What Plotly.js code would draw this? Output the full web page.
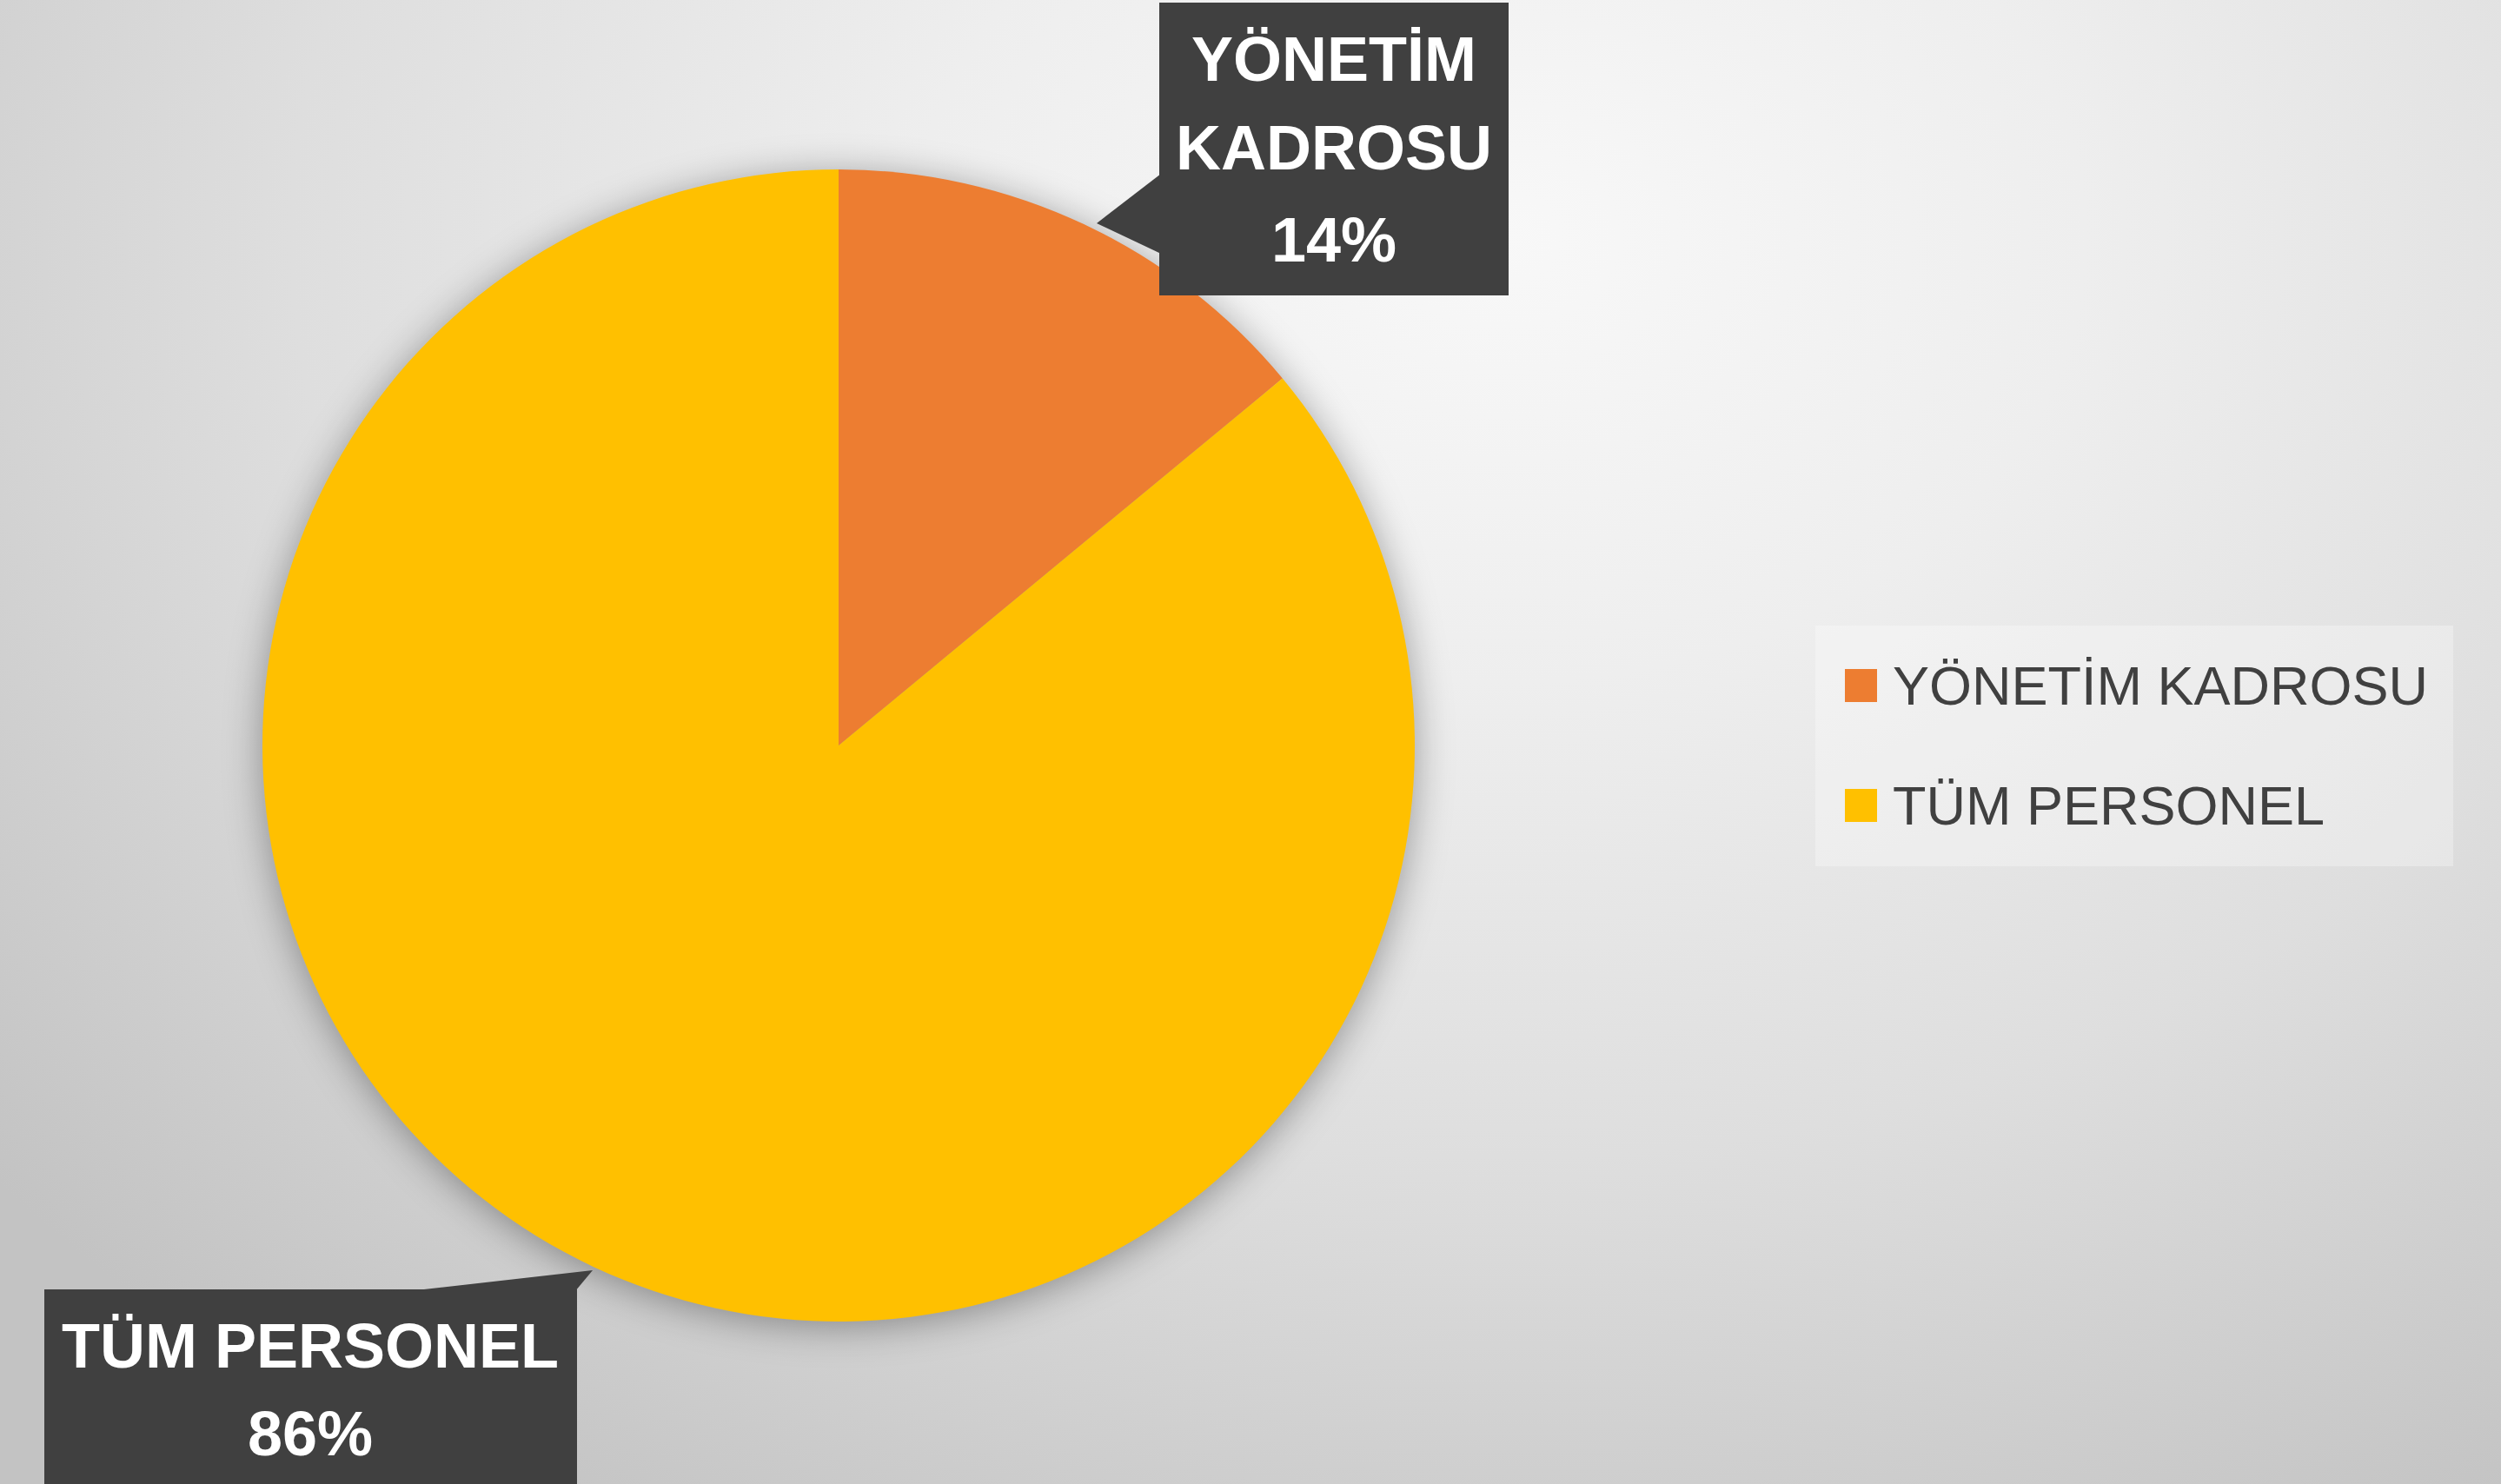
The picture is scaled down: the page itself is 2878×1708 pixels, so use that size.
<!DOCTYPE html>
<html>
<head>
<meta charset="utf-8">
<script src="https://cdn.plot.ly/plotly-3.0.1.min.js"></script>
<style>
  html, body { margin: 0; padding: 0; }
  body {
    width: 2878px; height: 1708px; overflow: hidden;
    background: radial-gradient(ellipse 78% 100% at 60% 16%, #f8f8f8 0%, #eeeeee 30%, #dedede 62%, #c3c3c3 100%);
  }
  #chart { width: 2878px; height: 1708px; }
  .pielayer { filter: drop-shadow(0px 6px 22px rgba(0,0,0,0.35)); }
</style>
</head>
<body>
<div id="chart"></div>
<script>
// ---- data ----
const labels = ["YÖNETİM KADROSU", "TÜM PERSONEL"];
const values = [14, 86];
const colors = ["#ED7D31", "#FFC000"];

// ---- helpers (pixel -> paper) ----
const W = 2878, H = 1708;
const px = x => x / W;
const py = y => 1 - y / H;
const FONT = '"Liberation Sans", Arial, sans-serif';

const total = values.reduce((a, b) => a + b, 0);
const pct = values.map(v => Math.round(v / total * 100) + '%');

// pie geometry: centre (965, 858), radius 663 px
const cx = 965, cy = 858, r = 663;

const trace = {
  type: 'pie',
  labels: labels,
  values: values,
  sort: false,
  direction: 'clockwise',
  rotation: 0,
  textinfo: 'none',
  hoverinfo: 'label+percent',
  marker: { colors: colors, line: { width: 0 } },
  domain: { x: [px(cx - r), px(cx + r)], y: [py(cy + r), py(cy - r)] },
  showlegend: false
};

// callout boxes (data labels): each line a separate text for exact spacing
const calloutLines = labels.map((l, i) =>
  (i === 0 ? l.split(' ') : [l]).concat([pct[i]]));
const calloutBox = [
  { x0: 1334, x1: 1736, y0: 3, y1: 340, cx: 1535, lineY: [68, 170, 276] },
  { x0: 51, x1: 664, y0: 1484, y1: 1720, cx: 357, lineY: [1549, 1650] }
];

const annotations = [];
const shapes = [];

calloutLines.forEach((lines, i) => {
  const b = calloutBox[i];
  shapes.push({ type: 'rect', xref: 'paper', yref: 'paper', layer: 'above',
    x0: px(b.x0), x1: px(b.x1), y0: py(b.y1), y1: py(b.y0),
    fillcolor: '#404040', line: { width: 0 } });
  lines.forEach((t, j) => {
    annotations.push({
      xref: 'paper', yref: 'paper',
      x: px(b.cx), y: py(b.lineY[j]),
      xanchor: 'center', yanchor: 'middle',
      text: t, showarrow: false,
      font: { family: FONT, size: 72, color: '#ffffff', weight: 'bold' }
    });
  });
});

function tri(pts) {
  return 'M' + pts.map(p => px(p[0]) + ',' + py(p[1])).join('L') + 'Z';
}

// callout pointers
shapes.push({ type: 'path', xref: 'paper', yref: 'paper', layer: 'above',
  path: tri([[1262, 257], [1336, 200], [1336, 292]]),
  fillcolor: '#404040', line: { width: 0 } });
shapes.push({ type: 'path', xref: 'paper', yref: 'paper', layer: 'above',
  path: tri([[470, 1486], [662, 1486], [682, 1462]]),
  fillcolor: '#404040', line: { width: 0 } });

// custom legend (large symbols)
shapes.push({ type: 'rect', xref: 'paper', yref: 'paper', layer: 'below',
  x0: px(2089), x1: px(2823), y0: py(997), y1: py(720),
  fillcolor: 'rgba(255,255,255,0.3)', line: { width: 0 } });
const legendRows = [789, 927];
labels.forEach((l, i) => {
  shapes.push({ type: 'rect', xref: 'paper', yref: 'paper', layer: 'above',
    x0: px(2123), x1: px(2160), y0: py(legendRows[i] + 19), y1: py(legendRows[i] - 19),
    fillcolor: colors[i], line: { width: 0 } });
  annotations.push({
    xref: 'paper', yref: 'paper',
    x: px(2176), y: py(legendRows[i]),
    xanchor: 'left', yanchor: 'middle',
    text: l, showarrow: false,
    font: { family: FONT, size: 63, color: '#404040' }
  });
});

const layout = {
  width: W, height: H,
  margin: { l: 0, r: 0, t: 0, b: 0, pad: 0 },
  paper_bgcolor: 'rgba(0,0,0,0)',
  plot_bgcolor: 'rgba(0,0,0,0)',
  showlegend: false,
  font: { family: FONT },
  annotations: annotations,
  shapes: shapes
};

Plotly.newPlot('chart', [trace], layout, { displayModeBar: false, staticPlot: true });
</script>
</body>
</html>
